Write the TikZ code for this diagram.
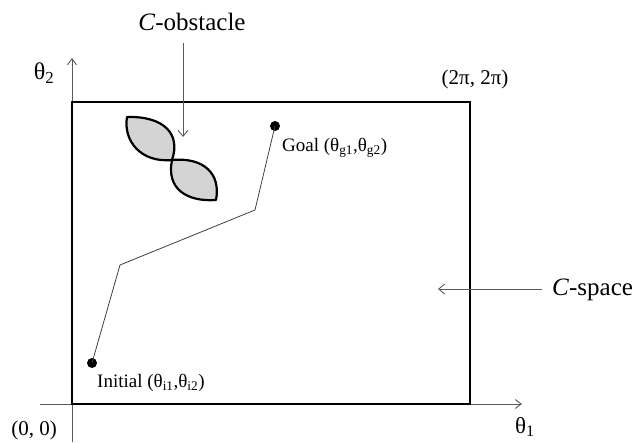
\documentclass[tikz,border=0pt]{standalone}
\usepackage{fontspec}
\setmainfont{Liberation Serif}
\usetikzlibrary{arrows.meta}
\tikzset{
  axisline/.style={draw=black!65, line width=0.9pt, -{Straight Barb[length=6pt,width=9pt,line width=0.9pt]}},
  pointer/.style={draw=black!65, line width=0.9pt, -{Straight Barb[length=6pt,width=10pt,line width=0.9pt]}},
  cbox/.style={draw=black, line width=2.7pt},
  lobe/.style={draw=black, fill=black!17, line width=2.2pt, line join=round},
  pathline/.style={draw=black!75, line width=0.8pt},
  dotnode/.style={circle, fill=black, inner sep=0pt, minimum size=10pt},
  lbl/.style={inner sep=0pt, text=black},
}
\begin{document}
\begin{tikzpicture}[x=1pt,y=-1pt]
\useasboundingbox (0,0) rectangle (634,442);
% axes
\coordinate (ybot) at (72,442);
\coordinate (ytop) at (72,58);
\coordinate (xleft) at (40,404);
\coordinate (xright) at (522,404);
\draw[axisline] (ybot) -- (ytop);
\draw[axisline] (xleft) -- (xright);
% C-space box
\draw[cbox] (72,102) rectangle (470,404);
% labels on axes
\node[lbl, font=\fontsize{24}{28}\selectfont] (t2) at (44,73) {θ\textsubscript{2}};
\node[lbl, font=\fontsize{23}{27}\selectfont] (t1) at (525,427) {θ\textsubscript{1}};
\node[lbl, font=\fontsize{21}{25}\selectfont] (origin) at (34,430) {(0, 0)};
\node[lbl, font=\fontsize{21}{25}\selectfont] (corner) at (475,79) {(2π, 2π)};
% obstacle
\draw[lobe] (127,117) .. controls (164,116) and (181,134) .. (172,160)
            .. controls (141,163) and (123,141) .. cycle;
\draw[lobe] (172,160) .. controls (204,157) and (221,174) .. (216,200)
            .. controls (187,202) and (166,189) .. cycle;
% C-obstacle label
\node[lbl, font=\fontsize{25}{30}\selectfont] (cobs) at (192,22) {\textit{C}-obstacle};
\coordinate (cobsA) at (183,43);
\coordinate (cobsB) at (183,137);
\draw[pointer] (cobsA) -- (cobsB);
% C-space label
\node[lbl, font=\fontsize{25}{30}\selectfont, anchor=west] (cspace) at (552,290) {\textit{C}-space};
\coordinate (cspA) at (542,289);
\coordinate (cspB) at (438,289);
\draw[pointer] (cspA) -- (cspB);
% path
\node[dotnode] (init) at (92,363) {};
\node[dotnode] (goal) at (275,126) {};
\coordinate (k1) at (120,265);
\coordinate (k2) at (255,210);
\draw[pathline] (init.center) -- (k1) -- (k2) -- (goal.center);
\node[lbl, anchor=west, font=\fontsize{19}{23}\selectfont] (goallbl) at (282,148) {Goal (θ\textsubscript{g1},θ\textsubscript{g2})};
\node[lbl, anchor=west, font=\fontsize{19}{23}\selectfont] (initlbl) at (97,383) {Initial (θ\textsubscript{i1},θ\textsubscript{i2})};
\end{tikzpicture}
\end{document}
